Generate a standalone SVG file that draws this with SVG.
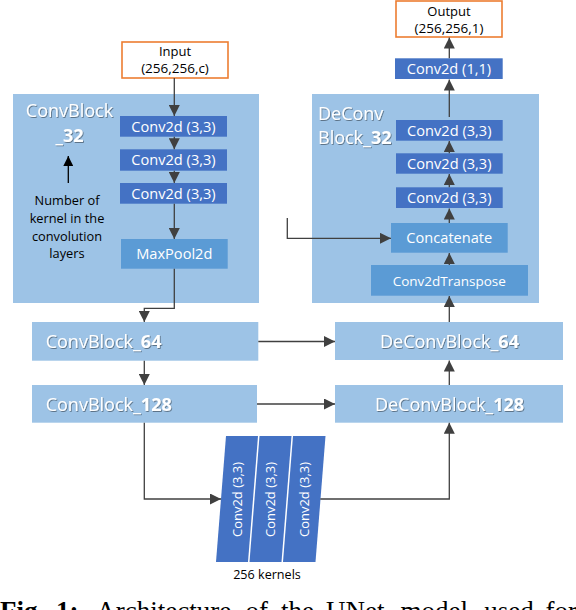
<svg xmlns="http://www.w3.org/2000/svg" width="576" height="610" viewBox="0 0 576 610">
<style>
.cont{fill:#9DC3E6}
.dark{fill:#4472C4}
.mid{fill:#5B9BD5}
.io{fill:#fff;stroke:#ED7D31;stroke-width:1.6}
.lbl{font-family:"Open Sans","Noto Sans",sans-serif;fill:#fff;font-size:14.6px;text-anchor:middle}
.blk{font-family:"Open Sans","Noto Sans",sans-serif;fill:#fff;font-size:18px}
.blk tspan.b{font-weight:bold}
.note{font-family:"Open Sans","Noto Sans",sans-serif;fill:#000;font-size:12.8px;text-anchor:middle}
.conn{fill:none;stroke:#404040;stroke-width:1.3}
.cap{font-family:"Liberation Serif","Times New Roman",serif;font-size:27px;fill:#000}
</style>
<defs>
<marker id="ah" markerUnits="userSpaceOnUse" markerWidth="11" markerHeight="11" viewBox="0 0 10 10" refX="10" refY="5" orient="auto">
<path d="M0,0 L10,5 L0,10 z" fill="#404040"/>
</marker>
<marker id="ahk" markerUnits="userSpaceOnUse" markerWidth="10" markerHeight="10" viewBox="0 0 10 10" refX="10" refY="5" orient="auto">
<path d="M0,0 L10,5 L0,10 z" fill="#000"/>
</marker>
<filter id="sh" x="-10%" y="-30%" width="130%" height="160%">
<feDropShadow dx="0.8" dy="0.9" stdDeviation="0.5" flood-color="#000" flood-opacity="0.45"/>
</filter>
</defs>

<g id="convblock32">
<rect class="cont" x="13" y="94" width="246" height="209"/>
<text class="blk" x="69.5" y="117" text-anchor="middle" filter="url(#sh)">ConvBlock</text>
<text class="blk" x="69.5" y="142" text-anchor="middle" filter="url(#sh)"><tspan class="b">_32</tspan></text>
</g>
<g id="deconvblock32">
<rect class="cont" x="312" y="94" width="227" height="209"/>
<text class="blk" x="318" y="120" filter="url(#sh)">DeConv</text>
<text class="blk" x="318" y="144" filter="url(#sh)">Block_<tspan class="b">32</tspan></text>
</g>

<g id="input">
<rect class="io" x="122" y="42" width="106" height="36"/>
<text class="note" x="175" y="56" style="font-size:13px">Input</text>
<text class="note" x="175" y="72.7" style="font-size:13.5px">(256,256,c)</text>
</g>
<g id="l_conv1"><rect class="dark" x="120" y="116" width="107" height="20.7"/><text class="lbl" x="173.5" y="131.5">Conv2d (3,3)</text></g>
<g id="l_conv2"><rect class="dark" x="120" y="149.3" width="107" height="21.4"/><text class="lbl" x="173.5" y="165">Conv2d (3,3)</text></g>
<g id="l_conv3"><rect class="dark" x="120" y="183" width="107" height="20.7"/><text class="lbl" x="173.5" y="198.5">Conv2d (3,3)</text></g>
<g id="maxpool"><rect class="mid" x="121" y="239" width="106.7" height="29.7"/><text class="lbl" x="174.3" y="259.3">MaxPool2d</text></g>

<g id="note">
<text class="note" x="67" y="205">Number of</text>
<text class="note" x="67" y="222.7">kernel in the</text>
<text class="note" x="67" y="240.5">convolution</text>
<text class="note" x="67" y="258">layers</text>
</g>

<g id="output">
<rect class="io" x="396" y="1" width="106" height="36"/>
<text class="note" x="449" y="15.5" style="font-size:13px">Output</text>
<text class="note" x="449" y="32.7" style="font-size:13.5px">(256,256,1)</text>
</g>
<g id="conv11"><rect class="dark" x="395" y="58.3" width="107.7" height="20.7"/><text class="lbl" x="449" y="73.8">Conv2d (1,1)</text></g>
<g id="r_conv1"><rect class="dark" x="396" y="120" width="106.7" height="20.7"/><text class="lbl" x="449.3" y="135.5">Conv2d (3,3)</text></g>
<g id="r_conv2"><rect class="dark" x="396" y="153.3" width="106.7" height="20.4"/><text class="lbl" x="449.3" y="168.8">Conv2d (3,3)</text></g>
<g id="r_conv3"><rect class="dark" x="396" y="187.3" width="106.7" height="20.7"/><text class="lbl" x="449.3" y="202.8">Conv2d (3,3)</text></g>
<g id="concat"><rect class="mid" x="391" y="223" width="116.7" height="29.7"/><text class="lbl" x="449.3" y="243.2">Concatenate</text></g>
<g id="transpose"><rect class="mid" x="371" y="265" width="157" height="30.7"/><text class="lbl" x="449.3" y="285.6" style="font-size:13.5px">Conv2dTranspose</text></g>

<g id="convblock64"><rect class="cont" x="32" y="322" width="226.3" height="38.7"/><text class="blk" x="45.7" y="347.7" filter="url(#sh)">ConvBlock_<tspan class="b">64</tspan></text></g>
<g id="convblock128"><rect class="cont" x="32" y="385" width="225" height="37.7"/><text class="blk" x="45.7" y="410.7" filter="url(#sh)">ConvBlock_<tspan class="b">128</tspan></text></g>
<g id="deconvblock64"><rect class="cont" x="335" y="322" width="228" height="38"/><text class="blk" x="449.5" y="347.5" text-anchor="middle" filter="url(#sh)">DeConvBlock_<tspan class="b">64</tspan></text></g>
<g id="deconvblock128"><rect class="cont" x="335" y="385" width="228" height="37.7"/><text class="blk" x="449.5" y="410.5" text-anchor="middle" filter="url(#sh)">DeConvBlock_<tspan class="b">128</tspan></text></g>

<g id="bottleneck">
<polygon class="dark" points="226,436 258,436 248,562 216,562"/>
<polygon class="dark" points="259.5,436 291.5,436 281.5,562 249.5,562"/>
<polygon class="dark" points="293,436 325.5,436 315.5,562 283,562"/>
<text class="lbl" style="font-size:13px" transform="translate(241.8,499.5) rotate(-90)">Conv2d (3,3)</text>
<text class="lbl" style="font-size:13px" transform="translate(275.2,499.5) rotate(-90)">Conv2d (3,3)</text>
<text class="lbl" style="font-size:13px" transform="translate(308.8,499.5) rotate(-90)">Conv2d (3,3)</text>
<text class="note" x="267" y="579.3" style="font-size:12.6px">256 kernels</text>
</g>

<g id="connectors">
<line class="conn" x1="174.3" y1="78" x2="174.3" y2="116" marker-end="url(#ah)"/>
<line class="conn" x1="174.3" y1="136.7" x2="174.3" y2="149.3" marker-end="url(#ah)"/>
<line class="conn" x1="174.3" y1="170.7" x2="174.3" y2="183" marker-end="url(#ah)"/>
<line class="conn" x1="174.3" y1="203.7" x2="174.3" y2="239" marker-end="url(#ah)"/>
<polyline class="conn" points="174.3,268.7 174.3,308.3 144.3,308.3 144.3,322" marker-end="url(#ah)"/>
<line class="conn" x1="144.3" y1="360.7" x2="144.3" y2="385" marker-end="url(#ah)"/>
<polyline class="conn" points="144.3,422.7 144.3,499 221,499" marker-end="url(#ah)"/>
<polyline class="conn" points="320.3,499 449.3,499 449.3,422.7" marker-end="url(#ah)"/>
<line class="conn" x1="258.3" y1="341.5" x2="335" y2="341.5" marker-end="url(#ah)"/>
<line class="conn" x1="257" y1="404" x2="335" y2="404" marker-end="url(#ah)"/>
<line class="conn" x1="449.3" y1="385" x2="449.3" y2="360.5" marker-end="url(#ah)"/>
<line class="conn" x1="449.3" y1="322" x2="449.3" y2="296" marker-end="url(#ah)"/>
<line class="conn" x1="449.3" y1="265" x2="449.3" y2="253" marker-end="url(#ah)"/>
<line class="conn" x1="449.3" y1="223" x2="449.3" y2="208.5" marker-end="url(#ah)"/>
<line class="conn" x1="449.3" y1="187.3" x2="449.3" y2="174" marker-end="url(#ah)"/>
<line class="conn" x1="449.3" y1="153.3" x2="449.3" y2="141" marker-end="url(#ah)"/>
<line class="conn" x1="449.3" y1="117" x2="449.3" y2="79.5" marker-end="url(#ah)"/>
<line class="conn" x1="449.3" y1="58.3" x2="449.3" y2="37.5" marker-end="url(#ah)"/>
<polyline class="conn" points="287.3,218 287.3,238.3 391,238.3" marker-end="url(#ah)"/>
<line x1="68.3" y1="183" x2="68.3" y2="156" stroke="#000" stroke-width="1.3" marker-end="url(#ahk)"/>
</g>

<g id="caption">
<text class="cap" y="619.5"><tspan x="0" font-weight="bold">Fig.</tspan><tspan x="56" font-weight="bold">1:</tspan><tspan x="96.3">Architecture</tspan><tspan x="245.4">of</tspan><tspan x="281">the</tspan><tspan x="326">UNet</tspan><tspan x="400.4">model</tspan><tspan x="484.2">used</tspan><tspan x="545.5">for</tspan></text>
</g>
</svg>
